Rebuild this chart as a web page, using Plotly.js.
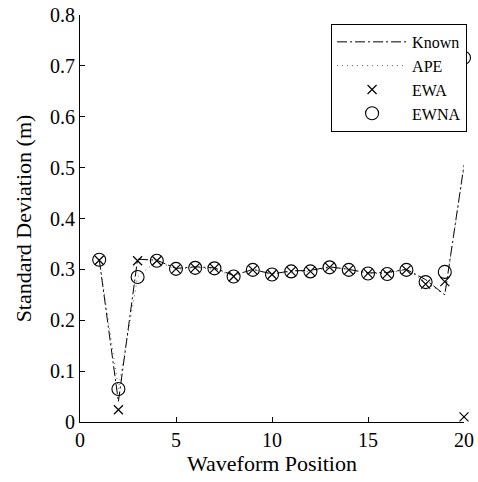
<!DOCTYPE html>
<html>
<head>
<meta charset="utf-8">
<script src="https://cdn.plot.ly/plotly-3.0.1.min.js"></script>
<style>html,body{margin:0;padding:0;background:#fff;}#chart{width:478px;height:482px;}</style>
</head>
<body>
<div id="chart"></div>
<script>
const positions = [1,2,3,4,5,6,7,8,9,10,11,12,13,14,15,16,17,18,19,20];
const known = [0.32,0.04,0.32,0.318,0.302,0.305,0.303,0.288,0.30,0.291,0.297,0.298,0.305,0.30,0.293,0.294,0.30,0.28,0.25,0.505];
const ape   = [0.32,0.065,0.285,0.317,0.30,0.304,0.30,0.287,0.30,0.29,0.296,0.296,0.303,0.30,0.292,0.292,0.30,0.275,0.25,0.50];
const ewa   = [0.318,0.024,0.317,0.317,0.301,0.303,0.302,0.286,0.299,0.29,0.296,0.296,0.304,0.299,0.292,0.291,0.299,0.271,0.276,0.01];
const ewna  = [0.319,0.065,0.285,0.317,0.301,0.303,0.302,0.286,0.299,0.29,0.296,0.296,0.304,0.299,0.292,0.291,0.299,0.275,0.295,0.716];
const xTicks = [0,5,10,15,20];
const yTicks = [0,0.1,0.2,0.3,0.4,0.5,0.6,0.7,0.8];

const font = "Times New Roman";
const traces = [
  {x: positions, y: known, name: 'Known', mode: 'lines', type: 'scatter',
   line: {color: '#000', width: 1, dash: '10px,3px,2px,3px'}, cliponaxis: false},
  {x: positions, y: ape, name: 'APE', mode: 'lines', type: 'scatter',
   line: {color: '#555', width: 1, dash: '1px,4px'}, cliponaxis: false},
  {x: positions, y: ewa, name: 'EWA', mode: 'markers', type: 'scatter',
   marker: {symbol: 'x-thin-open', size: 9, color: '#000', line: {color: '#000', width: 1.2}}, cliponaxis: false},
  {x: positions, y: ewna, name: 'EWNA', mode: 'markers', type: 'scatter',
   marker: {symbol: 'circle-open', size: 13, color: '#000', line: {color: '#000', width: 1.1}}, cliponaxis: false}
];
const layout = {
  width: 478, height: 482,
  margin: {l: 80, r: 11, t: 15, b: 60},
  paper_bgcolor: '#fff', plot_bgcolor: '#fff',
  font: {family: font, size: 18, color: '#000'},
  showlegend: true,
  legend: {x: 1.008, y: 0.978, xanchor: 'right', yanchor: 'top',
           bgcolor: '#fff', bordercolor: '#000', borderwidth: 1, itemwidth: 70,
           font: {family: font, size: 16, color: '#000'}, tracegroupgap: 0},
  xaxis: {range: [0, 20], tickvals: xTicks, ticktext: xTicks.map(String),
          ticks: 'inside', ticklen: 5, tickcolor: '#000', showgrid: false, zeroline: false,
          showline: true, linecolor: '#000', linewidth: 1, mirror: false,
          tickfont: {family: font, size: 20},
          title: {text: 'Waveform Position', font: {family: font, size: 22}, standoff: 3}},
  yaxis: {range: [0, 0.8], tickvals: yTicks, ticktext: yTicks.map(v => v === 0 ? '0' : v.toFixed(1)),
          ticks: 'inside', ticklen: 5, tickcolor: '#000', showgrid: false, zeroline: false,
          showline: true, linecolor: '#000', linewidth: 1, mirror: false,
          tickfont: {family: font, size: 20},
          title: {text: 'Standard Deviation (m)', font: {family: font, size: 22}, standoff: 12}}
};
Plotly.newPlot('chart', traces, layout, {displayModeBar: false, staticPlot: true});
</script>
</body>
</html>
